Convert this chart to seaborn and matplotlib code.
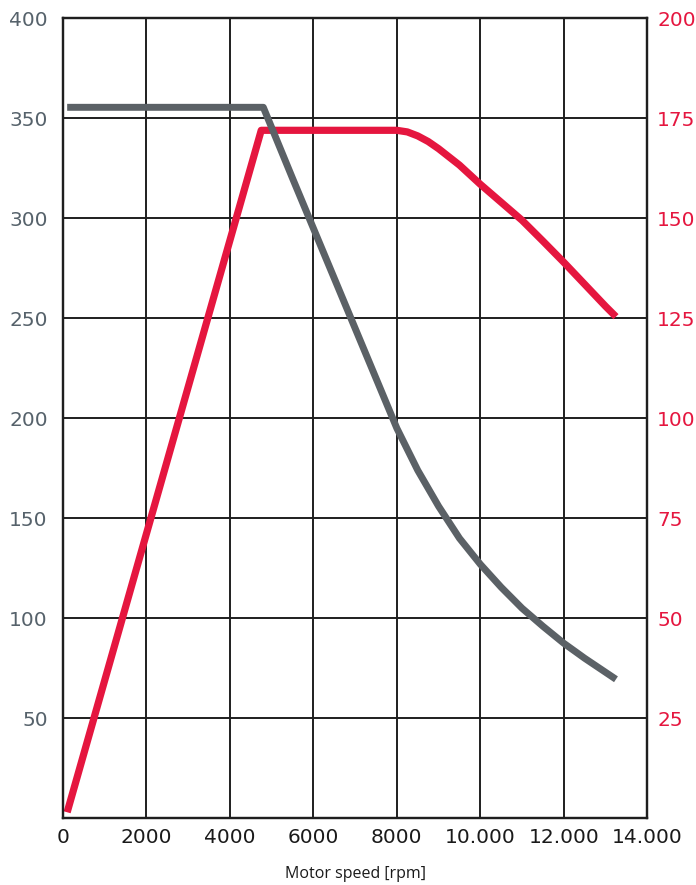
import pandas as pd
import matplotlib
matplotlib.use("Agg")
import matplotlib.pyplot as plt
import seaborn as sns

sns.set_style("white")
plt.rcParams["font.family"] = ["DejaVu Sans"]

# torque curve (left axis)
torque_rpm = [100, 4800, 5500, 6000, 6500, 7000, 7500, 8000, 8500, 9000,
              9500, 10000, 10500, 11000, 11500, 12000, 12500, 13000, 13250]
torque_val = [355.5, 355.5, 320, 295, 270, 245, 220, 195, 174, 156,
              140, 127, 115.5, 105, 96, 87.5, 80, 73, 69.5]

# power curve (right axis)
power_rpm = [100, 4750, 8000, 8250, 8500, 8750, 9000, 9500, 10000, 10500,
             11000, 11500, 12000, 12500, 13000, 13250]
power_val = [1.5, 172, 172, 171.6, 170.6, 169.2, 167.4, 163.3, 158.5, 154,
             149.5, 144.3, 139, 133.5, 128, 125.4]

x_ticks = [0, 2000, 4000, 6000, 8000, 10000, 12000, 14000]
x_labels = ["0", "2000", "4000", "6000", "8000", "10.000", "12.000", "14.000"]
left_ticks = [50, 100, 150, 200, 250, 300, 350, 400]
right_ticks = [25, 50, 75, 100, 125, 150, 175, 200]

GREY = "#5b6166"
RED = "#e5163f"
GRID = "#1e1e1e"

df_t = pd.DataFrame({"rpm": torque_rpm, "val": torque_val})
df_p = pd.DataFrame({"rpm": power_rpm, "val": power_val})

fig = plt.figure(figsize=(6.96, 8.85), dpi=100)
fig.patch.set_facecolor("white")
ax = fig.add_axes([0.0905, 0.0754, 0.8395, 0.9039])
ax2 = ax.twinx()

# red curve + grid on the twin axis, grey curve on top
ax2.xaxis.set_visible(True)
sns.lineplot(data=df_p, x="rpm", y="val", ax=ax2, color=RED, lw=5.2,
             solid_capstyle="butt", solid_joinstyle="round")
sns.lineplot(data=df_t, x="rpm", y="val", ax=ax, color=GREY, lw=5.0,
             solid_capstyle="butt", solid_joinstyle="round")

ax.set_zorder(ax2.get_zorder() + 1)
ax.patch.set_visible(False)

ax.set_xlim(0, 14000)
ax.set_ylim(0, 400)
ax2.set_ylim(0, 200)

ax.set_xticks(x_ticks)
ax.set_xticklabels(x_labels)
ax.set_yticks(left_ticks)
ax2.set_yticks(right_ticks)

ax2.grid(True, axis="both", color=GRID, lw=1.4)
ax.grid(False)
ax2.tick_params(axis="x", bottom=False, labelbottom=False, top=False)

ax.tick_params(axis="x", length=0, pad=7, labelsize=14.5, labelcolor="#1a1a1a")
ax.tick_params(axis="y", length=0, pad=11, labelsize=14.5, labelcolor="#56626b")
ax2.tick_params(axis="y", length=0, pad=7, labelsize=14.5, labelcolor=RED)

ax.set_ylabel("")
ax2.set_ylabel("")
ax2.set_xlabel("")
ax.set_xlabel("Motor speed [rpm]", fontsize=11.5, labelpad=14,
              family=["Open Sans", "DejaVu Sans"], color="#1a1a1a")

for a in (ax, ax2):
    for s in a.spines.values():
        s.set_visible(True)
        s.set_color(GRID)
        s.set_linewidth(1.6)

fig.savefig("out.png", dpi=100, facecolor="white")
